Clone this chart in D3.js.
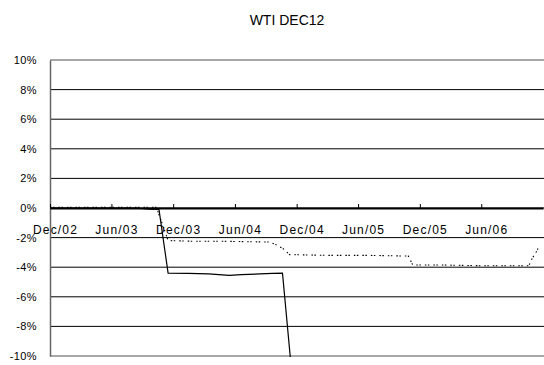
<!DOCTYPE html>
<meta charset="utf-8">
<style>
body { margin: 0; background: #fff; }
svg text { font-family: "Liberation Sans", Arial, sans-serif; fill: #000; }
.grid line { stroke: #000; stroke-width: 1px; }
</style>
<body>
<svg width="544" height="365"></svg>
<script src="https://cdnjs.cloudflare.com/ajax/libs/d3/7.8.5/d3.min.js"></script>
<script>

// percent change
var solidDates = ["2002-12-01", "2003-03-01", "2003-06-01", "2003-08-10", "2003-09-20", "2003-10-13",
                  "2003-10-20", "2003-11-16", "2004-01-15", "2004-03-15", "2004-05-15", "2004-06-20",
                  "2004-08-15", "2004-09-20", "2004-10-20", "2004-11-13"];
var solidValues = [0, 0, 0, 0, -0.08, -0.1,
                   -0.1, -4.4, -4.42, -4.45, -4.55, -4.5,
                   -4.45, -4.42, -4.4, -10.3];

var dottedDates = ["2002-12-01", "2003-10-13", "2003-10-22", "2003-11-01", "2003-11-16", "2004-02-01",
                   "2004-05-01", "2004-09-10", "2004-09-28", "2004-10-22", "2004-11-10", "2005-03-01",
                   "2005-07-01", "2005-10-28", "2005-11-10", "2006-02-01", "2006-06-01", "2006-10-20",
                   "2006-10-30", "2006-11-10", "2006-11-22"];
var dottedValues = [0.05, 0.05, -0.6, -1.2, -2.2, -2.25,
                    -2.25, -2.3, -2.45, -2.75, -3.15, -3.2,
                    -3.2, -3.25, -3.85, -3.85, -3.9, -3.9,
                    -3.4, -3.0, -2.5];

var xTickDates = ["2002-12-01", "2003-06-01", "2003-12-01", "2004-06-01",
                  "2004-12-01", "2005-06-01", "2005-12-01", "2006-06-01"];
var yTicks = [10, 8, 6, 4, 2, 0, -2, -4, -6, -8, -10];

var svg = d3.select("svg");
var parse = d3.timeParse("%Y-%m-%d");

var x = d3.scaleTime()
    .domain([parse("2002-12-01"), parse("2006-12-01")])
    .range([50, 543]);
var y = d3.scaleLinear()
    .domain([-10, 10])
    .range([356, 60]);

svg.append("text")
    .attr("x", 287).attr("y", 25)
    .attr("text-anchor", "middle")
    .style("font-size", "14px")
    .text("WTI DEC12");

// gridlines
svg.append("g").attr("class", "grid")
  .selectAll("line")
  .data(yTicks)
  .enter().append("line")
    .attr("x1", 50).attr("x2", 544)
    .attr("y1", function(d) { return y(d); })
    .attr("y2", function(d) { return y(d); })
    .style("stroke", function(d) { return (d == 10 || d == -10) ? "#8a8a8a" : "#000"; })
    .style("stroke-width", function(d) { return (d == 10 || d == -10) ? 1.5 : 1; });

// y axis
var yAxis = svg.append("g")
    .attr("transform", "translate(50,0)")
    .call(d3.axisLeft(y).tickValues(yTicks).tickSize(0).tickPadding(13)
      .tickFormat(function(d) { return d + "%"; }));
yAxis.select(".domain").attr("stroke", "#666").attr("stroke-width", 1.5);
yAxis.selectAll("text").style("font-size", "11px").style("letter-spacing", "0.4px");

svg.append("clipPath").attr("id", "plot")
  .append("rect").attr("x", 50).attr("y", 59).attr("width", 494).attr("height", 298);

var line = d3.line()
    .x(function(d) { return x(d[0]); })
    .y(function(d) { return y(d[1]); });

var solid = solidDates.map(function(d, i) { return [parse(d), solidValues[i]]; });
var dotted = dottedDates.map(function(d, i) { return [parse(d), dottedValues[i]]; });

svg.append("path")
    .datum(dotted)
    .attr("clip-path", "url(#plot)")
    .attr("d", line)
    .attr("fill", "none")
    .attr("stroke", "#000")
    .attr("stroke-width", 1.1)
    .attr("stroke-dasharray", "1.5,1.5,1.5,4");

svg.append("path")
    .datum(solid)
    .attr("clip-path", "url(#plot)")
    .attr("d", line)
    .attr("fill", "none")
    .attr("stroke", "#000")
    .attr("stroke-width", 1.2);

// x axis on the zero line
var xAxis = svg.append("g")
    .attr("transform", "translate(0," + y(0) + ")")
    .call(d3.axisBottom(x).tickValues(xTickDates.map(parse)).tickSizeInner(-4).tickSizeOuter(0)
      .tickPadding(17).tickFormat(d3.timeFormat("%b/%y")));
xAxis.select(".domain").attr("stroke", "#000").attr("stroke-width", 2);
xAxis.selectAll(".tick line").attr("stroke", "#000");
xAxis.selectAll("text")
    .attr("dx", 5)
    .style("font-size", "12px")
    .style("letter-spacing", "1.2px");

</script>
</body>
